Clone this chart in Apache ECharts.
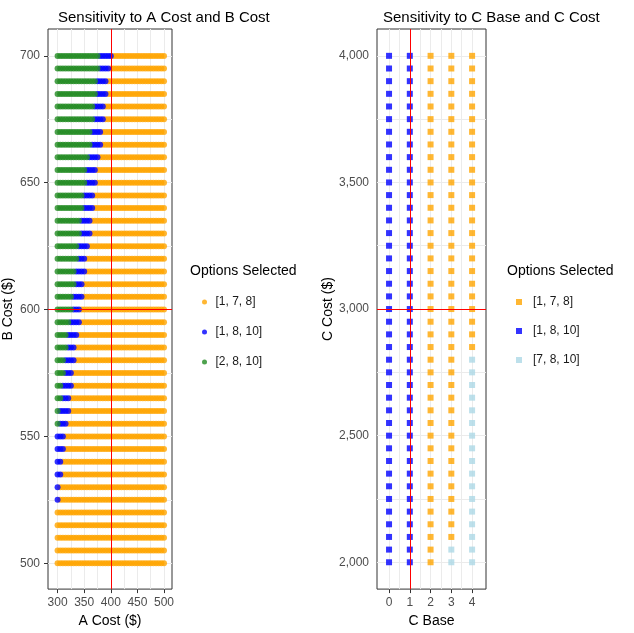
<!DOCTYPE html>
<html><head><meta charset="utf-8">
<script src="https://cdn.jsdelivr.net/npm/echarts@6/dist/echarts.min.js"></script>
<style>html,body{margin:0;padding:0;background:#fff}#c{width:634px;height:633px}</style>
</head><body><div id="c"></div>
<script>
// left panel: one row per B Cost, last A Cost that is green / blue (null = none)
var bCost = [500,505,510,515,520,525,530,535,540,545,550,555,560,565,570,575,580,585,590,595,600,
  605,610,615,620,625,630,635,640,645,650,655,660,665,670,675,680,685,690,695,700];
var greenEnd = [null,null,null,null,null,null,null,null,null,null,null,300,300,305,305,310,310,315,315,320,325,
  325,330,330,335,335,340,340,345,345,350,350,355,360,360,365,365,370,370,375,375];
var blueEnd = [null,null,null,null,null,300,300,305,305,310,310,315,320,320,325,325,330,330,335,340,340,
  345,345,350,350,355,360,360,365,365,370,370,375,380,380,385,385,390,390,395,400];
var aCost = [];
for (var a = 300; a <= 500; a += 5) aCost.push(a);

// right panel
var cBase = [0,1,2,3,4];
var cCost = [];
for (var c = 2000; c <= 4000; c += 50) cCost.push(c);
var colOption = ['[1, 8, 10]','[1, 8, 10]','[1, 7, 8]','[1, 7, 8]','[1, 7, 8]'];
var lightUpTo = [null,null,null,2050,2800];

var leftNames = ['[1, 7, 8]','[1, 8, 10]','[2, 8, 10]'];
var rightNames = ['[1, 7, 8]','[1, 8, 10]','[7, 8, 10]'];
var colors = {'[1, 7, 8]':'#FFA500','[1, 8, 10]':'#0000FF','[2, 8, 10]':'#228B22','[7, 8, 10]':'#ADD8E6'};

var leftData = {'[1, 7, 8]':[],'[1, 8, 10]':[],'[2, 8, 10]':[]};
bCost.forEach(function(b, i){
  aCost.forEach(function(x){
    var k = '[1, 7, 8]';
    if (greenEnd[i] !== null && x <= greenEnd[i]) k = '[2, 8, 10]';
    else if (blueEnd[i] !== null && x <= blueEnd[i]) k = '[1, 8, 10]';
    leftData[k].push([x, b]);
  });
});
var rightData = {'[1, 7, 8]':[],'[1, 8, 10]':[],'[7, 8, 10]':[]};
cBase.forEach(function(x, j){
  cCost.forEach(function(y){
    var k = colOption[j];
    if (lightUpTo[j] !== null && y <= lightUpTo[j]) k = '[7, 8, 10]';
    rightData[k].push([x, y]);
  });
});

function range(s, e, st){ var r=[]; for (var v=s; v<=e+1e-9; v+=st) r.push(+v.toFixed(3)); return r; }
var gridLine = {color:'#ebebeb', width:1, type:'solid'};
function gridSeries(xi, xs, ys){
  var d = xs.map(function(v){return {xAxis:v};}).concat(ys.map(function(v){return {yAxis:v};}));
  return {type:'scatter', xAxisIndex:xi, yAxisIndex:xi, data:[], z:0, silent:true,
    markLine:{silent:true, symbol:'none', label:{show:false}, lineStyle:gridLine, animation:false, data:d}};
}
function refSeries(xi, xv, yv){
  return {type:'scatter', xAxisIndex:xi, yAxisIndex:xi, data:[], z:10, silent:true,
    markLine:{silent:true, symbol:'none', label:{show:false}, animation:false, z:10,
      lineStyle:{color:'#FF0000', width:1, type:'solid'}, data:[{xAxis:xv},{yAxis:yv}]}};
}
var axisCommon = {
  axisLine:{show:false}, splitLine:{show:false},
  axisTick:{show:true, length:4, lineStyle:{color:'#333'}},
  axisLabel:{color:'#4d4d4d', fontSize:12, fontFamily:'Liberation Sans'},
  nameLocation:'middle', nameTextStyle:{color:'#000', fontSize:14, fontFamily:'Liberation Sans'}
};
function ax(o){ return Object.assign({}, axisCommon, o); }

var series = [gridSeries(0, range(300,500,25), range(500,700,25)),
              gridSeries(1, range(0,4,0.5), range(2000,4000,250))];
leftNames.forEach(function(n){
  series.push({name:n, type:'scatter', xAxisIndex:0, yAxisIndex:0, symbol:'circle', symbolSize:6,
    itemStyle:{color:colors[n]}, data:leftData[n], z:5});
});
rightNames.forEach(function(n){
  series.push({name:n, type:'scatter', xAxisIndex:1, yAxisIndex:1, symbol:'rect', symbolSize:6,
    itemStyle:{color:colors[n]}, data:rightData[n], z:5});
});
series.push(refSeries(0, 400, 600));
series.push(refSeries(1, 1, 3000));

var chart = echarts.init(document.getElementById('c'));
chart.setOption({
  animation:false,
  textStyle:{fontFamily:'Liberation Sans'},
  title:[
    {text:'Sensitivity to A Cost and B Cost', left:53, top:5, textStyle:{fontSize:15, fontWeight:'normal', color:'#000'}},
    {text:'Sensitivity to C Base and C Cost', left:378, top:5, textStyle:{fontSize:15, fontWeight:'normal', color:'#000'}}
  ],
  graphic:[
    {type:'text', left:190, top:264, style:{text:'Options Selected', fontSize:14, fill:'#000', fontFamily:'Liberation Sans'}},
    {type:'text', left:507, top:264, style:{text:'Options Selected', fontSize:14, fill:'#000', fontFamily:'Liberation Sans'}}
  ],
  legend:[
    {data:leftNames, orient:'vertical', left:197, top:291, icon:'circle', itemWidth:12, itemHeight:5, itemGap:18,
      textStyle:{fontSize:12, color:'#1a1a1a'}},
    {data:rightNames, orient:'vertical', left:511, top:291, icon:'rect', itemWidth:6, itemHeight:6, itemGap:17,
      textStyle:{fontSize:12, color:'#1a1a1a', padding:[0,0,0,6]}}
  ],
  grid:[
    {left:48, top:29, width:124, height:561, show:true, borderColor:'#333', borderWidth:1},
    {left:377, top:29, width:109, height:561, show:true, borderColor:'#333', borderWidth:1}
  ],
  xAxis:[
    ax({gridIndex:0, type:'value', min:282, max:515, name:'A Cost ($)', nameGap:21,
      axisLabel:Object.assign({}, axisCommon.axisLabel, {customValues:range(300,500,50)}),
      axisTick:Object.assign({}, axisCommon.axisTick, {customValues:range(300,500,50)})}),
    ax({gridIndex:1, type:'value', min:-0.58, max:4.67, name:'C Base', nameGap:21,
      axisLabel:Object.assign({}, axisCommon.axisLabel, {customValues:range(0,4,1)}),
      axisTick:Object.assign({}, axisCommon.axisTick, {customValues:range(0,4,1)})})
  ],
  yAxis:[
    ax({gridIndex:0, type:'value', min:489.8, max:710.6, name:'B Cost ($)', nameGap:33,
      axisLabel:Object.assign({}, axisCommon.axisLabel, {customValues:range(500,700,50)}),
      axisTick:Object.assign({}, axisCommon.axisTick, {customValues:range(500,700,50)})}),
    ax({gridIndex:1, type:'value', min:1894, max:4106, name:'C Cost ($)', nameGap:40,
      axisLabel:Object.assign({}, axisCommon.axisLabel, {customValues:range(2000,4000,500)}),
      axisTick:Object.assign({}, axisCommon.axisTick, {customValues:range(2000,4000,500)})})
  ],
  series:series
});
</script></body></html>
